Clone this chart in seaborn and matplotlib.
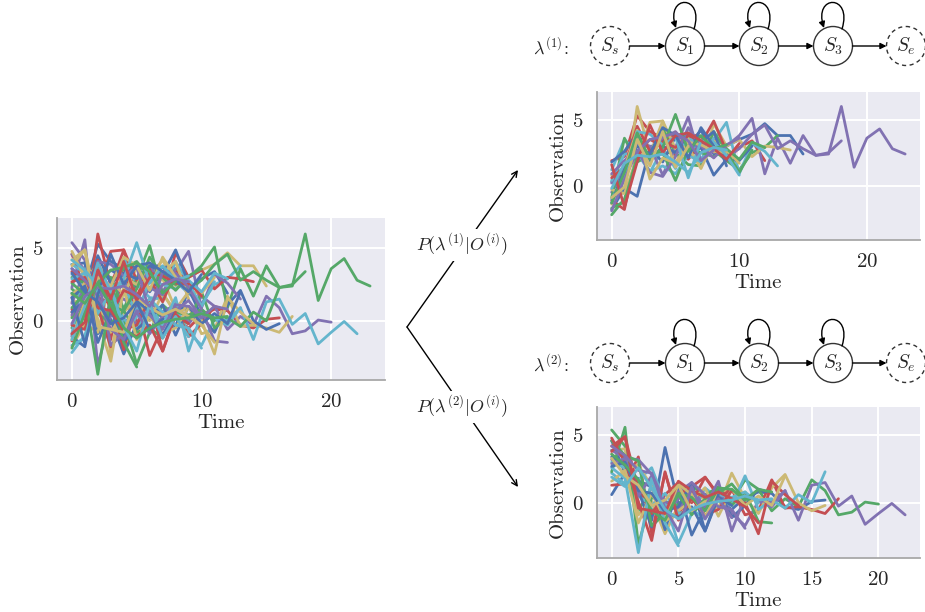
import matplotlib
matplotlib.use("Agg")
import matplotlib.pyplot as plt
from matplotlib.patches import Circle, FancyArrowPatch
from matplotlib.path import Path
from matplotlib.ticker import MultipleLocator
import seaborn as sns

# sequences assigned to model 1 (rising)
top_seqs = [
    [0.3, 1.1, 3.8, 2.9, 3.5, 2.6, 3.1, 4.2, 2.4, 3.0, 3.5, 3.9, 4.7, 3.8, 3.8, 2.4],
    [-2.2, -1.0, 1.9, 2.3, 2.4, 2.6, 3.3, 2.0, 2.7, 1.9, 1.2, 2.5, 2.9, 3.8],
    [1.9, 2.2, 5.3, 4.1, 3.6, 2.3, 3.9, 3.7, 3.0, 1.9, 2.9, 3.4, 1.9],
    [-0.5, 1.2, 3.5, 2.8, 3.6, 4.1, 3.0, 3.3, 2.5, 3.0, 3.8, 5.1, 0.9, 3.6, 1.7, 3.8, 2.3, 2.4, 6.0, 1.4, 3.6, 4.3, 2.8, 2.4],
    [0.8, -0.4, 6.0, 2.4, 4.9, 1.6, 3.8, 1.4, 4.7, 3.0, 3.5, 2.2, 3.0, 2.9, 2.7],
    [1.2, 3.5, 2.5, 1.0, 2.8, 1.3, 4.0, 2.0, 3.4, 4.8, 0.9, 3.2, 2.6, 1.5],
    [-1.8, -0.2, -0.8, 2.8, 1.8, 3.7, 2.2, 2.9, 0.8, 2.0, 1.9, 3.0],
    [-0.9, 3.6, 1.8, 2.3, 4.3, 2.5, 1.6, 1.5, 4.1, 2.6, 1.0, 2.7],
    [-1.1, -1.8, 2.6, 3.5, 3.0, 4.0, 2.0, 3.2, 4.9, 2.6],
    [0.2, 1.5, 3.2, 3.0, 0.8, 2.9, 5.2, 1.8, 3.6, 2.2, 2.8, 3.9, 4.6, 2.8, 3.4, 2.8, 2.3, 2.5, 3.4],
    [-0.3, -0.6, 2.2, 4.8, 4.9, 2.8, 2.9, 1.3, 3.4, 2.7, 1.7],
    [0.4, 2.4, 2.5, 1.1, 1.5, 0.9, 2.3, 1.8, 3.6],
    [1.8, 2.6, 4.0, 1.9, 3.0, 2.5, 3.9, 3.3, 4.1, 1.5],
    [-1.7, -1.2, 2.2, 2.4, 2.5, 0.4, 2.8, 2.5, 2.2, 2.8, 2.0, 3.3, 2.9],
    [0.6, 1.4, 4.5, 2.6, 3.3, 2.9, 3.8, 3.4],
    [0.9, 1.9, 2.7, 1.0, 0.7, 2.2, 4.4, 3.0, 2.1, 3.1, 3.6],
    [-1.4, 1.3, 4.2, 0.5, 2.1, 1.7, 3.3, 3.1, 2.6, 2.5],
    [-1.0, 0.7, 4.1, 3.9, 3.1, 3.7, 0.6, 3.4, 3.3, 2.3, 0.8],
    [-1.3, 1.3, 3.0, 2.4, 4.4, 3.8, 2.1, 4.4, 3.0],
    [-1.3, 1.0, 4.0, 2.0, 2.9, 5.4, 2.6, 3.8, 2.8, 3.1],
    [1.6, -1.6, 1.8, 4.6, 2.5, 3.8, 4.0, 3.4, 2.8, 2.0, 3.2],
    [-1.9, 0.5, 2.6, 3.5, 3.7, 4.0, 3.4, 1.9, 2.7],
    [-0.9, -0.1, 3.5, 1.5, 4.1, 1.4, 3.0],
    [-0.2, 1.7, 2.3, 2.2, 2.4, 1.8, 1.0, 2.5, 2.9, 2.7],
]

# sequences assigned to model 2 (decaying)
bottom_seqs = [
    [0.6, 2.2, 1.8, -1.3, 4.1, -0.1, 0.6, -1.0, 0.2, -0.5, 0.4, 0.8, 0.7, -0.3, -0.5, 0.1, 0.2],
    [5.4, 4.2, -0.6, 1.2, -0.5, 0.5, 0.2, 0.6, 1.1, 0.1, 1.7, 1.0, -0.6, 0.3, -0.3, 1.7, 0.9, -0.9, -0.7, 0.05, -0.1],
    [1.3, 1.4, 3.4, -2.3, 2.2, -1.0, 1.2, 1.9, 0.6, 1.0, -0.9, -0.6, 1.7, -0.4, -0.3, -0.5, -0.8, 0.3],
    [3.2, 3.1, 1.6, 1.2, -1.1, 0.3, 0.7, -0.4, 0.9, -0.8, -1.7, 0.1, -0.3, 0.9, -1.3, 1.3, 1.5, -0.25, 0.5, -1.6, -0.8, -0.05, -0.9],
    [3.9, 4.0, -0.9, 0.1, -2.3, -0.2, 1.0, 0.2, -0.4, 2.2, 0.3, -0.8, 1.1, 2.1, 0.0, -0.6, -0.2],
    [2.2, 1.4, 1.7, 2.6, 0.0, -3.0, -0.8, 1.1, 0.3, -0.2, 2.0, -0.5, 0.2, -0.4, 0.6, 0.0, 2.3],
    [4.6, 2.2, 1.6, 1.2, -2.0, 1.2, -2.4, -0.4, 0.9, -1.1, -0.2, 1.0, 0.7],
    [2.3, 5.6, -3.1, 0.4, 0.1, -0.2, 1.3, 0.5, 1.2, -0.2, 0.8, -1.4, -1.5],
    [4.2, 4.9, 1.0, -0.8, 0.6, 1.5, 0.0, 1.9, 0.5, 0.9, 0.0, -2.3, 1.6, 0.6, -0.2],
    [3.9, 3.3, 3.2, 2.1, 0.1, -0.5, 1.0, -0.3, 1.6, -2.1, 0.5, 0.2, 0.0, 0.9],
    [3.6, 2.5, 2.8, 1.2, -1.4, -0.6, 0.2, 1.1, -1.0, 1.0, -0.2, 0.5, -0.2, 2.0],
    [3.0, 2.6, 0.5, -0.2, 0.7, -0.8, -0.5, -1.2, 0.6, 0.4, 0.8, 0.0],
    [3.4, 2.8, 0.9, -1.8, -0.6, -0.3, 1.5, -2.1, 0.4, -0.2],
    [4.6, 3.5, 3.1, -1.7, -0.8, 0.6, -0.9, 0.3, 0.7, 1.4, 0.2, 1.0, 0.8],
    [4.8, 3.0, 0.1, -2.8, 2.3, -1.3, 0.3, -0.9, -0.5, 0.9],
    [2.9, 3.3, 0.5, 2.0, -0.7, 0.8, 1.5, 0.6, -0.3, -0.5, -1.9],
    [1.6, 2.4, -1.5, 0.7, -1.2, 1.4, 0.6, -1.0, 0.7],
    [2.6, 1.8, -3.7, 1.8, -1.5, -3.2],
    [2.7, 3.0, 0.9, 0.7, -0.7, -1.1, -0.3, -2.1, 0.6],
    [3.6, 2.8, 1.7, -0.6, -1.3, 0.7, 0.4, -0.6, 1.1, 1.0, 0.2],
    [3.8, 4.9, -0.4, -0.6, -0.8, 1.6, 0.9, 0.4, 0.8, 0.3, -0.3, -1.5],
    [4.2, 3.5, 2.4, 2.2, -0.4, -2.1, 1.2, -1.2, 0.3, -1.1],
    [3.3, 2.0, 1.3, -0.2, 0.2, 1.3, -0.6, 0.1],
    [1.9, 1.2, 2.6, 1.1, -0.5, -1.2, -0.5, -0.1, 0.1, 0.2, 0.5, 0.2, 0.3],
]

model_labels = [r"$\lambda^{(1)}$:", r"$\lambda^{(2)}$:"]
state_labels = [r"$S_s$", r"$S_1$", r"$S_2$", r"$S_3$", r"$S_e$"]
prob_labels = [r"$P(\lambda^{(1)}|O^{(i)})$", r"$P(\lambda^{(2)}|O^{(i)})$"]

palette = ["#4C72B0", "#55A868", "#C44E52", "#8172B2", "#CCB974", "#64B5CD"]

sns.set_style("darkgrid")
plt.rcParams["font.family"] = ["cmr10", "DejaVu Serif"]
plt.rcParams["mathtext.fontset"] = "cm"
plt.rcParams["axes.formatter.use_mathtext"] = True
plt.rcParams["axes.unicode_minus"] = False

fig = plt.figure(figsize=(9.25, 6.12), dpi=100)

ax_all = fig.add_axes([0.0616, 0.379, 0.3546, 0.2647])
ax_top = fig.add_axes([0.6454, 0.608, 0.349, 0.2418])
ax_bot = fig.add_axes([0.6454, 0.0882, 0.349, 0.2467])


def draw_seq(ax, seq, color):
    sns.lineplot(x=list(range(len(seq))), y=seq, ax=ax, color=color, lw=2.0)


# left: everything mixed together
n = max(len(top_seqs), len(bottom_seqs))
for j in range(n):
    if j < len(top_seqs):
        draw_seq(ax_all, top_seqs[j], palette[(j + 4) % 6])
    if j < len(bottom_seqs):
        draw_seq(ax_all, bottom_seqs[j], palette[(j + 2) % 6])

for i, s in enumerate(top_seqs):
    draw_seq(ax_top, s, palette[i % 6])
for i, s in enumerate(bottom_seqs):
    draw_seq(ax_bot, s, palette[i % 6])

for ax, step in [(ax_all, 10), (ax_top, 10), (ax_bot, 5)]:
    ax.set_ylim(-4.1, 7.1)
    ax.xaxis.set_major_locator(MultipleLocator(step))
    ax.set_yticks([0, 5])
    ax.set_xlabel("Time", fontsize=15, labelpad=2)
    ax.set_ylabel("Observation", fontsize=15, labelpad=4)
    ax.tick_params(labelsize=15, pad=6)
    for side in ["left", "bottom"]:
        ax.spines[side].set_color("#a8a8a8")
        ax.spines[side].set_linewidth(1.3)
    for side in ["top", "right"]:
        ax.spines[side].set_visible(False)
    ax.grid(True, color="white", lw=1.4)

# overlay in pixel units for the diagrams and the arrows
ov = fig.add_axes([0, 0, 1, 1], zorder=-1)
ov.set_xlim(0, 925)
ov.set_ylim(612, 0)
ov.axis("off")

node_x = [610, 685, 759, 833, 906]
r = 19.5
for row, cy in enumerate([46, 363]):
    ov.text(551, cy, model_labels[row], fontsize=13, ha="center", va="center")
    for k, cx in enumerate(node_x):
        dashed = k in (0, 4)
        ov.add_patch(Circle((cx, cy), r, fill=False, ec="#333333", lw=1.0,
                            ls=(0, (3, 2.5)) if dashed else "-"))
        ov.text(cx, cy, state_labels[k], fontsize=14, ha="center", va="center")
        if k < 4:
            ov.add_patch(FancyArrowPatch((cx + r, cy), (node_x[k + 1] - r, cy),
                                         arrowstyle="-|>", mutation_scale=9,
                                         lw=1.0, color="black",
                                         shrinkA=0, shrinkB=0))
        if 1 <= k <= 3:
            verts = [(cx + 9, cy - 17), (cx + 20, cy - 52),
                     (cx - 20, cy - 52), (cx - 9, cy - 18)]
            loop = Path(verts, [Path.MOVETO, Path.CURVE4, Path.CURVE4, Path.CURVE4])
            ov.add_patch(FancyArrowPatch(path=loop, arrowstyle="-|>",
                                         mutation_scale=9, lw=1.0, color="black"))

# branching arrows with the posterior labels
for tip, lab_y, lab in [((518, 170), 245, prob_labels[0]), ((518, 487), 407, prob_labels[1])]:
    ov.annotate("", xy=tip, xytext=(407, 327),
                arrowprops=dict(arrowstyle="->", lw=1.0, color="black",
                                shrinkA=0, shrinkB=0))
    ov.text(462, lab_y, lab, fontsize=13, ha="center", va="center",
            bbox=dict(fc="white", ec="none", pad=2))

fig.savefig("out.png", dpi=100)
